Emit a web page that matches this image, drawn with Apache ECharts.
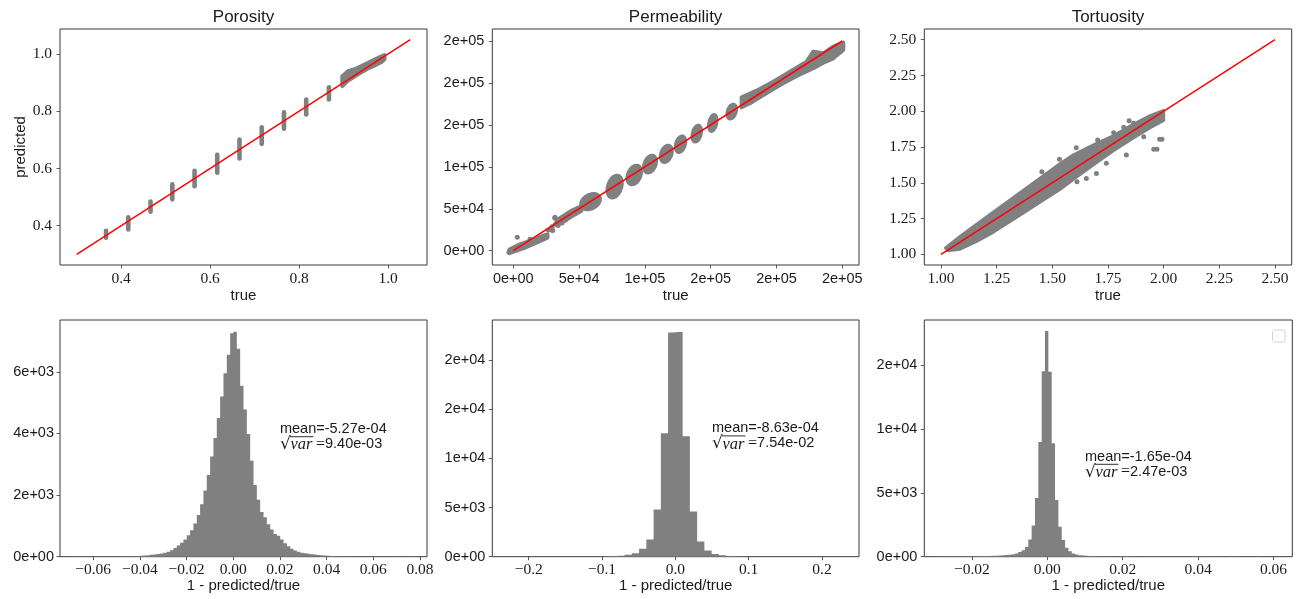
<!DOCTYPE html>
<html><head><meta charset="utf-8">
<script src="https://cdn.jsdelivr.net/npm/echarts@6/dist/echarts.min.js"></script>
<style>html,body{margin:0;padding:0;background:#fff}#c{width:1304px;height:599px}</style>
</head><body><div id="c"></div>
<script>
// ---------------- data ----------------
const titles = ['Porosity', 'Permeability', 'Tortuosity'];
const scatterXName = 'true';
const scatterYName = 'predicted';
const histXName = '1 - predicted/true';

// Porosity: vertical streaks of points [true, predicted low, predicted high]
const porosityStreaks = [
  [0.366, 0.358, 0.382], [0.416, 0.387, 0.429], [0.466, 0.449, 0.484],
  [0.515, 0.492, 0.545], [0.565, 0.538, 0.592], [0.616, 0.585, 0.648],
  [0.666, 0.635, 0.701], [0.716, 0.686, 0.744], [0.766, 0.739, 0.796],
  [0.816, 0.789, 0.841], [0.867, 0.841, 0.884]
];
// dense cloud outline [true, predicted]
const porosityCloud = [
  [0.897, 0.922], [0.91, 0.94], [0.925, 0.947], [0.94, 0.958], [0.955, 0.969], [0.97, 0.981], [0.985, 0.992], [0.992, 0.996],
  [0.992, 0.982], [0.985, 0.972], [0.97, 0.96], [0.955, 0.95], [0.94, 0.936], [0.925, 0.922], [0.91, 0.907], [0.897, 0.888]
];
const porosityLine = [[0.3, 0.3], [1.05, 1.05]];
const porosityTicks = [0.4, 0.6, 0.8, 1.0];
const porosityTickLabels = ['0.4', '0.6', '0.8', '1.0'];

// Permeability: clusters as bounding boxes [true min, true max, predicted min, predicted max]
const permBlobs = [
  [51000, 66400, 48500, 68400], [71000, 83000, 62500, 90300], [86200, 97600, 78300, 102200],
  [98800, 109000, 92300, 114100], [111500, 121000, 104900, 126000], [122900, 131200, 116800, 137100],
  [135600, 143200, 129200, 149900], [148200, 155000, 141900, 162600], [162200, 169800, 156700, 174900]
];
// dense point clouds outlines [true, predicted]
const permLowCloud = [
  [-3000, 1500], [5000, 7500], [15000, 13000], [22000, 17500], [26000, 19500],
  [26000, 15500], [18000, 10000], [8000, 3000], [-3000, -3000]
];
const permMidCloud = [
  [34000, 38000], [44000, 48000], [52000, 54000], [52000, 47000], [44000, 40000], [34000, 30000]
];
const permHighCloud = [
  [173510, 182860], [184900, 190810], [197570, 201540], [210230, 213470], [222900, 225390], [227970, 237320],
  [235560, 235330], [243160, 243280], [250760, 248050],
  [250760, 239300], [243160, 229370], [235560, 224200], [227970, 217440], [215300, 208300], [202640, 197570],
  [189970, 185640], [179840, 175700], [173510, 170930]
];
const permPoints = [
  [3000, 16000], [24000, 15900], [12700, 13500], [-3300, -1900], [29000, 24700], [26600, 24700],
  [28000, 26000], [30000, 24000], [31500, 39000], [33000, 36500], [35500, 34500], [37000, 33000],
  [38000, 39800], [40600, 42600], [42000, 45000], [43000, 40500], [34000, 30000], [36500, 37500],
  [39500, 36500], [41500, 40000], [29500, 28500], [32000, 31500], [44000, 46000], [31700, 39800], [35500, 34600]
];
const permLine = [[0, 0], [250000, 250000]];
const permTicks = [0, 50000, 100000, 150000, 200000, 250000];
const permTickLabels = ['0e+00', '5e+04', '1e+05', '2e+05', '2e+05', '2e+05'];

// Tortuosity
const tortCloud = [
  [1.02, 1.045], [1.0855, 1.125], [1.16, 1.21], [1.2355, 1.295], [1.31, 1.38], [1.3857, 1.465], [1.46, 1.55],
  [1.5355, 1.635], [1.595, 1.695], [1.685, 1.765], [1.7755, 1.83], [1.8654, 1.91], [1.94, 1.97], [2.0, 2.005],
  [2.0, 1.935], [1.94, 1.885], [1.8654, 1.815], [1.7755, 1.725], [1.685, 1.625], [1.595, 1.525], [1.5355, 1.455],
  [1.46, 1.38], [1.3857, 1.305], [1.31, 1.23], [1.2355, 1.155], [1.16, 1.09], [1.0855, 1.035], [1.03, 1.025]
];
const tortPoints = [
  [1.532, 1.6635], [1.6075, 1.745], [1.7035, 1.799], [1.7155, 1.706], [1.7426, 1.636], [1.7755, 1.85],
  [1.8205, 1.888], [1.8325, 1.694], [1.8654, 1.916], [1.9105, 1.822], [1.9555, 1.7335], [1.970, 1.7335],
  [1.982, 1.8035], [1.9925, 1.8035], [1.963, 1.946], [1.6107, 1.5067], [1.6526, 1.530], [1.698, 1.5655],
  [1.845, 1.934], [1.453, 1.577]
];
const tortLine = [[1.0, 1.0], [2.5, 2.5]];
const tortTicks = [1.0, 1.25, 1.5, 1.75, 2.0, 2.25, 2.5];
const tortTickLabels = ['1.00', '1.25', '1.50', '1.75', '2.00', '2.25', '2.50'];

// Histograms of 1 - predicted/true
const poroHistStart = -0.0671, poroHistWidth = 0.00143;
const poroHistCounts = [
  3, 2, 2, 3, 2, 3, 3, 4, 4, 5, 5, 6, 7, 8, 10, 12, 15, 20, 26,
  32, 40, 50, 60, 72, 85, 100, 125, 160, 210, 280, 360, 450, 560, 700, 860, 1080, 1350, 1700, 2150, 2650, 3250, 3850, 4500, 5200, 5950, 6550, 7250,
  7300, 6750, 5550, 4780, 3980, 3110, 2330, 1850, 1450, 1280, 1050, 880, 740, 680, 560, 440, 340, 260, 200, 160, 130, 110, 95, 80, 68, 58, 48, 40, 32, 26, 22, 18, 15, 12,
  10, 9, 8, 7, 6, 6, 5, 5, 4, 4, 4, 3, 3, 3, 2, 2, 2, 2, 3
];
const permHistStart = -0.099, permHistWidth = 0.0099;
const permHistCounts = [50, 60, 100, 200, 340, 800, 1750, 4800, 12550, 22800, 22850, 12250, 4600, 1550, 620, 280, 135, 70, 35, 15];
const tortHistStart = -0.02812, tortHistWidth = 0.0008875;
const tortHistCounts = [
  40, 50, 30, 30, 40, 45, 30, 35, 40, 40, 45, 50, 50, 55, 60, 65, 75, 90,
  110, 130, 160, 200, 250, 360, 500, 760, 1350, 2450, 4600, 9000,
  14550, 17700, 14500, 8900, 4450, 2350, 1300, 700, 420, 260, 180, 120, 85, 65, 55, 45,
  40, 35, 30, 30, 25, 25, 20, 20,
  50, 55, 50, 45,
  20, 15, 15, 20,
  45, 40,
  15, 12, 10, 10, 8, 8, 10, 8, 8, 6, 6,
  40, 45, 40, 35, 40,
  8, 6, 6, 5, 5, 5,
  35, 40, 35,
  5, 5, 4, 4, 4,
  30,
  4, 3, 3, 3, 5
];
const poroHistTicks = [-0.06, -0.04, -0.02, 0, 0.02, 0.04, 0.06, 0.08];
const poroHistTickLabels = ['\u22120.06', '\u22120.04', '\u22120.02', '0.00', '0.02', '0.04', '0.06', '0.08'];
const poroCountTicks = [0, 2000, 4000, 6000];
const poroCountTickLabels = ['0e+00', '2e+03', '4e+03', '6e+03'];
const permHistTicks = [-0.2, -0.1, 0, 0.1, 0.2];
const permHistTickLabels = ['\u22120.2', '\u22120.1', '0.0', '0.1', '0.2'];
const permCountTicks = [0, 5000, 10000, 15000, 20000];
const permCountTickLabels = ['0e+00', '5e+03', '1e+04', '2e+04', '2e+04'];
const tortHistTicks = [-0.02, 0, 0.02, 0.04, 0.06];
const tortHistTickLabels = ['\u22120.02', '0.00', '0.02', '0.04', '0.06'];
const tortCountTicks = [0, 5000, 10000, 15000];
const tortCountTickLabels = ['0e+00', '5e+03', '1e+04', '2e+04'];

// statistics annotations [mean text, sqrt(var) value], anchor [x, count]
const poroStats = ['mean=-5.27e-04', '9.40e-03'];
const permStats = ['mean=-8.63e-04', '7.54e-02'];
const tortStats = ['mean=-1.65e-04', '2.47e-03'];
const poroStatsAt = [0.02, 3900];
const permStatsAt = [0.05, 12300];
const tortStatsAt = [0.01, 7260];

// ---------------- rendering ----------------
const GRAY = '#808080';
const INK = '#1a1a1a';
const SANS = 'Liberation Sans';
const SERIF = 'Liberation Serif';

const grids = [
  {left: 60, top: 29, width: 367, height: 236},
  {left: 492.3, top: 29, width: 366.7, height: 236},
  {left: 924.3, top: 29, width: 367.4, height: 236},
  {left: 60, top: 320, width: 367, height: 236.7},
  {left: 492.3, top: 320, width: 366.7, height: 236.7},
  {left: 924.3, top: 320, width: 368, height: 236.7}
].map(g => Object.assign(g, {show: true, borderColor: '#3a3a3a', borderWidth: 1, backgroundColor: 'transparent', containLabel: false, outerBoundsMode: 'none'}));

function lookup(ticks, labels) {
  return v => {
    let bi = 0, bd = Infinity;
    ticks.forEach((t, i) => { const d = Math.abs(t - v); if (d < bd) { bd = d; bi = i; } });
    return labels[bi];
  };
}
function mkAxis(gi, min, max, ticks, labels, fontFamily, fontSize, margin, nameOpts) {
  const a = {
    type: 'value', gridIndex: gi, min: min, max: max, scale: true,
    axisLine: {show: false, onZero: false},
    axisTick: {show: true, inside: false, length: 3.5, lineStyle: {color: '#333', width: 0.8}, customValues: ticks},
    axisLabel: {show: true, customValues: ticks, formatter: lookup(ticks, labels), fontFamily: fontFamily, fontSize: fontSize, color: INK, margin: margin},
    splitLine: {show: false}, splitArea: {show: false}
  };
  if (nameOpts) Object.assign(a, nameOpts);
  return a;
}
const xName = (text, gap) => ({name: text, nameLocation: 'middle', nameGap: gap, nameTextStyle: {fontFamily: SANS, fontSize: 15, color: INK}});

const xAxes = [
  mkAxis(0, 0.2625, 1.0875, porosityTicks, porosityTickLabels, SERIF, 15.5, 5.5, xName(scatterXName, 23)),
  mkAxis(1, -15960, 262690, permTicks, permTickLabels, SANS, 14.5, 6, xName(scatterXName, 23)),
  mkAxis(2, 0.925, 2.575, tortTicks, tortTickLabels, SERIF, 15.5, 5.5, xName(scatterXName, 23)),
  mkAxis(3, -0.0742, 0.0830, poroHistTicks, poroHistTickLabels, SERIF, 15.5, 5, xName(histXName, 17)),
  mkAxis(4, -0.2497, 0.2505, permHistTicks, permHistTickLabels, SERIF, 15.5, 5, xName(histXName, 17)),
  mkAxis(5, -0.03263, 0.06499, tortHistTicks, tortHistTickLabels, SERIF, 15.5, 5, xName(histXName, 17))
];
const yAxes = [
  mkAxis(0, 0.2625, 1.0875, porosityTicks, porosityTickLabels, SERIF, 15.5, 8,
    {name: scatterYName, nameLocation: 'middle', nameGap: 30, nameRotate: 90, nameTextStyle: {fontFamily: SANS, fontSize: 15, color: INK}}),
  mkAxis(1, -17050, 264300, permTicks, permTickLabels, SANS, 14.5, 8),
  mkAxis(2, 0.925, 2.575, tortTicks, tortTickLabels, SERIF, 15.5, 8),
  mkAxis(3, 0, 7680, poroCountTicks, poroCountTickLabels, SANS, 14.5, 6),
  mkAxis(4, 0, 24060, permCountTicks, permCountTickLabels, SANS, 14.5, 7),
  mkAxis(5, 0, 18560, tortCountTicks, tortCountTickLabels, SANS, 14.5, 7)
];

function polygonSeries(gi, poly, lw) {
  return {
    type: 'custom', xAxisIndex: gi, yAxisIndex: gi, clip: true, silent: true, z: 2,
    data: [poly[0]], encode: {x: 0, y: 1},
    renderItem: (params, api) => ({
      type: 'polygon',
      shape: {points: poly.map(p => api.coord(p))},
      style: {fill: GRAY, stroke: GRAY, lineWidth: lw || 4, lineJoin: 'round'}
    })
  };
}
function streakSeries(gi, streaks) {
  return {
    type: 'custom', xAxisIndex: gi, yAxisIndex: gi, clip: true, silent: true, z: 2,
    data: streaks, encode: {x: 0, y: [1, 2]},
    renderItem: (params, api) => {
      const a = api.coord([api.value(0), api.value(1)]);
      const b = api.coord([api.value(0), api.value(2)]);
      return {type: 'line', shape: {x1: a[0], y1: a[1], x2: b[0], y2: b[1]},
        style: {stroke: GRAY, lineWidth: 4.6, lineCap: 'round'}};
    }
  };
}
// tilted oval touching each cluster's bounding box
function blobSeries(gi, blobs) {
  return {
    type: 'custom', xAxisIndex: gi, yAxisIndex: gi, clip: true, silent: true, z: 2,
    data: blobs, encode: {x: [0, 1], y: [2, 3]},
    renderItem: (params, api) => {
      const lo = api.coord([api.value(0), api.value(2)]);
      const hi = api.coord([api.value(1), api.value(3)]);
      const cx = (lo[0] + hi[0]) / 2, cy = (lo[1] + hi[1]) / 2;
      const a = (hi[0] - lo[0]) / 2, b = (lo[1] - hi[1]) / 2, r = 0.3, q = Math.sqrt(1 - r * r);
      const pts = [];
      for (let i = 0; i < 48; i++) {
        const t = i / 48 * Math.PI * 2;
        pts.push([cx + a * Math.cos(t), cy - b * (r * Math.cos(t) + q * Math.sin(t))]);
      }
      return {type: 'polygon', shape: {points: pts}, style: {fill: GRAY, stroke: GRAY, lineWidth: 2.5, lineJoin: 'round'}};
    }
  };
}
function pointSeries(gi, pts) {
  return {type: 'scatter', xAxisIndex: gi, yAxisIndex: gi, data: pts, symbol: 'circle', symbolSize: 5,
    itemStyle: {color: GRAY, opacity: 1}, silent: true, z: 2};
}
function idLine(gi, pts) {
  return {type: 'line', xAxisIndex: gi, yAxisIndex: gi, data: pts, symbol: 'none', silent: true, z: 10,
    lineStyle: {color: '#ff0000', width: 1.5}};
}
// histogram drawn as one step outline so that neighbouring bins leave no seams
function histSeries(gi, start, w, counts) {
  return {
    type: 'custom', xAxisIndex: gi, yAxisIndex: gi, clip: true, silent: true, z: 2,
    data: [[start, 0]], encode: {x: 0, y: 1},
    renderItem: (params, api) => {
      const pts = [api.coord([start, 0])];
      counts.forEach((c, i) => {
        pts.push(api.coord([start + i * w, c]));
        pts.push(api.coord([start + (i + 1) * w, c]));
      });
      pts.push(api.coord([start + counts.length * w, 0]));
      return {type: 'polygon', shape: {points: pts}, style: {fill: GRAY}};
    }
  };
}
const mctx = document.createElement('canvas').getContext('2d');
function tw(text, size, family, style) {
  mctx.font = (style || 'normal') + ' ' + size + 'px "' + family + '"';
  return mctx.measureText(text).width;
}
function statsSeries(gi, at, stats) {
  return {
    type: 'custom', xAxisIndex: gi, yAxisIndex: gi, clip: false, silent: true, z: 20,
    data: [at], encode: {x: 0, y: 1},
    renderItem: (params, api) => {
      const p = api.coord([api.value(0), api.value(1)]);
      const x0 = p[0], y1 = p[1] - 7.5, y2 = p[1] + 7.5;
      const wr = tw('\u221a', 17, 'DejaVu Sans');
      const wv = tw('var', 16.5, SERIF, 'italic');
      const wq = tw('=', 16, SERIF);
      const xv = x0 + wr - 0.8;
      return {type: 'group', children: [
        {type: 'text', x: x0, y: y1, style: {text: stats[0], fill: INK, fontSize: 14.5, fontFamily: SANS, align: 'left', verticalAlign: 'middle'}},
        {type: 'text', x: x0, y: y2 + 0.5, style: {text: '\u221a', fill: INK, fontSize: 17, fontFamily: 'DejaVu Sans', align: 'left', verticalAlign: 'middle'}},
        {type: 'line', shape: {x1: xv, y1: p[1] + 0.2, x2: xv + wv + 1.5, y2: p[1] + 0.2}, style: {stroke: INK, lineWidth: 0.9}},
        {type: 'text', x: xv + 0.5, y: y2 + 1, style: {text: 'var', fill: INK, fontSize: 16.5, fontFamily: SERIF, fontStyle: 'italic', align: 'left', verticalAlign: 'middle'}},
        {type: 'text', x: xv + wv + 4, y: y2 + 0.5, style: {text: '=', fill: INK, fontSize: 16, fontFamily: SERIF, align: 'left', verticalAlign: 'middle'}},
        {type: 'text', x: xv + wv + 4 + wq, y: y2, style: {text: stats[1], fill: INK, fontSize: 14.5, fontFamily: SANS, align: 'left', verticalAlign: 'middle'}}
      ]};
    }
  };
}

const colCenters = [243.5, 675.6, 1108];
const option = {
  animation: false,
  backgroundColor: '#ffffff',
  title: titles.map((t, i) => ({text: t, left: colCenters[i], top: 9, textAlign: 'center', padding: 0,
    textStyle: {fontFamily: SANS, fontSize: 17, fontWeight: 'normal', color: INK}})),
  grid: grids,
  xAxis: xAxes,
  yAxis: yAxes,
  graphic: [{type: 'rect', shape: {x: 1272.5, y: 330, width: 12.5, height: 12, r: 2}, style: {fill: '#fff', stroke: '#d4d4d4', lineWidth: 1}, z: 30}],
  series: [
    streakSeries(0, porosityStreaks), polygonSeries(0, porosityCloud), idLine(0, porosityLine),
    polygonSeries(1, permLowCloud, 4), polygonSeries(1, permMidCloud, 3), polygonSeries(1, permHighCloud, 4),
    blobSeries(1, permBlobs), pointSeries(1, permPoints), idLine(1, permLine),
    polygonSeries(2, tortCloud, 3), pointSeries(2, tortPoints), idLine(2, tortLine),
    histSeries(3, poroHistStart, poroHistWidth, poroHistCounts), statsSeries(3, poroStatsAt, poroStats),
    histSeries(4, permHistStart, permHistWidth, permHistCounts), statsSeries(4, permStatsAt, permStats),
    histSeries(5, tortHistStart, tortHistWidth, tortHistCounts), statsSeries(5, tortStatsAt, tortStats)
  ]
};
const chart = echarts.init(document.getElementById('c'), null, {renderer: 'canvas'});
chart.setOption(option);
</script>
</body></html>
